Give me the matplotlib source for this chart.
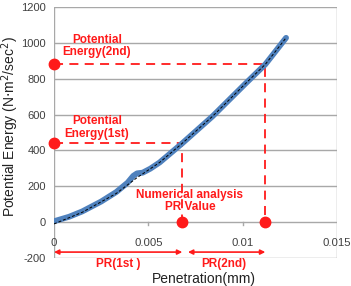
import numpy as np
import matplotlib.pyplot as plt

plt.rcParams['font.family'] = ['Liberation Sans', 'DejaVu Sans']

# curve
pen_mm = [0, 0.0008, 0.0015, 0.0025, 0.0033, 0.0039, 0.0042, 0.0044, 0.0047, 0.0051,
          0.0056, 0.0068, 0.0084, 0.0102, 0.0112, 0.0123]
energy = [5, 30, 60, 115, 168, 220, 258, 272, 276, 298, 333, 440, 590, 778, 880, 1028]
trend_x = [0, 0.0015, 0.0033, 0.0044, 0.0056, 0.0068, 0.0084, 0.0102, 0.0112, 0.0123]
trend_y = [-10, 55, 160, 248, 333, 440, 590, 778, 880, 1028]

# PR points and energies
pr_1st = 0.0068
pr_2nd = 0.0112
pe_1st = 440
pe_2nd = 880

x_ticks = [0, 0.005, 0.01, 0.015]
x_tick_labels = ['0', '0.005', '0.01', '0.015']
y_ticks = [-200, 0, 200, 400, 600, 800, 1000, 1200]

red = '#ff1a1a'
grid_col = '#a8a8a8'
tick_col = '#404040'

fig = plt.figure(figsize=(3.51, 2.86), dpi=100)
ax = fig.add_axes([54 / 351, 28 / 286, 283 / 351, 251 / 286])
ax.set_xlim(0, 0.015)
ax.set_ylim(-200, 1200)

# grid
for yv in y_ticks:
    ax.axhline(yv, color=grid_col, lw=1.0, zorder=0)
ax.axvline(0.015, color=grid_col, lw=1.0, zorder=0)
for s in ax.spines.values():
    s.set_visible(False)
ax.axvline(0, color=grid_col, lw=1.0, zorder=0)

ax.set_yticks(y_ticks)
ax.set_yticklabels([str(v) for v in y_ticks], color=tick_col, fontsize=8)
ax.tick_params(axis='y', length=0, pad=6)
ax.set_xticks([])
for xv, lab in zip(x_ticks, x_tick_labels):
    ax.text(xv, -115, lab, ha='center', va='center', color=tick_col, fontsize=8.2)
    if 0 < xv < 0.015:
        ax.plot([xv, xv], [0, -15], color=grid_col, lw=1.0, zorder=1)

# curve
ax.plot(pen_mm, energy, color='#4f81bd', lw=4.2, solid_capstyle='round',
        solid_joinstyle='round', zorder=3)
ax.plot(trend_x, trend_y, color='black', lw=0.7, ls=(0, (3, 2)), zorder=4)

# dashed guides
dash = (0, (5, 3.5))
ax.plot([0, pr_1st, pr_1st], [pe_1st, pe_1st, 0], color=red, lw=1.3, ls=dash, zorder=2)
ax.plot([0, pr_2nd, pr_2nd], [pe_2nd, pe_2nd, 0], color=red, lw=1.3, ls=dash, zorder=2)
ax.plot([0, 0, pr_1st, pr_2nd], [pe_1st, pe_2nd, 0, 0], 'o', color=red, ms=7.5,
        clip_on=False, zorder=5)

# PR arrows
ax.annotate('', xy=(0, -167), xytext=(pr_1st, -167),
            arrowprops=dict(arrowstyle='<|-|>', color=red, lw=1.2, mutation_scale=7,
                            shrinkA=0, shrinkB=0), annotation_clip=False)
ax.annotate('', xy=(pr_1st + 0.0003, -167), xytext=(pr_2nd, -167),
            arrowprops=dict(arrowstyle='<|-|>', color=red, lw=1.2, mutation_scale=7,
                            shrinkA=0, shrinkB=0), annotation_clip=False)

txt = dict(color=red, fontsize=8.5, fontweight='bold', ha='center', va='center',
           linespacing=1.05)
ax.text(0.00228, 983, 'Potential\nEnergy(2nd)', **txt)
ax.text(0.00228, 528, 'Potential\nEnergy(1st)', **txt)
ax.text(0.0072, 117, 'Numerical analysis\nPR Value', **txt)
ax.text(0.0034, -233, 'PR(1st )', clip_on=False, **txt)
ax.text(0.0090, -233, 'PR(2nd)', clip_on=False, **txt)

fig.text(204 / 351, 1 - 279 / 286, 'Penetration(mm)', fontsize=10, ha='center',
         va='center', color='#222222')
fig.text(10 / 351, 1 - 127 / 286, 'Potential Energy (N$\\cdot$m$^2$/sec$^2$)',
         fontsize=10, rotation=90, ha='center', va='center', color='#222222')

fig.savefig('out.png', dpi=100)
